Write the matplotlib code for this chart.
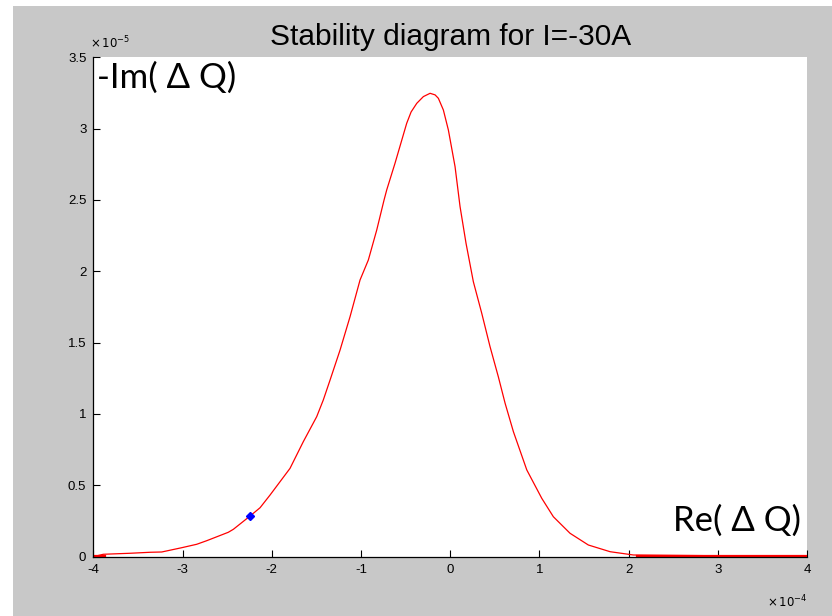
import matplotlib
matplotlib.use("Agg")
import matplotlib.pyplot as plt
from matplotlib.patches import Rectangle

# Stability diagram: Re(dQ) in units of 1e-4, -Im(dQ) in units of 1e-5
re_dq = [-4.000, -3.888, -3.589, -3.364, -3.233, -3.009, -2.841, -2.729, -2.487,
         -2.430, -2.243, -2.131, -2.019, -1.795, -1.646, -1.496, -1.422, -1.346,
         -1.234, -1.122, -1.010, -0.917, -0.823, -0.741, -0.711, -0.618, -0.487,
         -0.438, -0.374, -0.300, -0.225, -0.169, -0.132, -0.076, -0.020, 0.055,
         0.111, 0.178, 0.260, 0.354, 0.447, 0.540, 0.616, 0.709, 0.859, 1.027,
         1.157, 1.344, 1.549, 1.793, 2.054, 4.000]
im_dq = [0.000, 0.017, 0.024, 0.031, 0.033, 0.063, 0.087, 0.112, 0.171,
         0.192, 0.285, 0.343, 0.432, 0.619, 0.806, 0.981, 1.098, 1.238,
         1.448, 1.682, 1.939, 2.079, 2.289, 2.499, 2.570, 2.757, 3.037,
         3.116, 3.177, 3.224, 3.247, 3.236, 3.212, 3.130, 2.990, 2.733,
         2.453, 2.196, 1.927, 1.706, 1.472, 1.261, 1.075, 0.876, 0.608, 0.409,
         0.280, 0.164, 0.082, 0.035, 0.012, 0.001]

# working point
point_re = [-2.243]
point_im = [0.285]

x_ticks = [-4, -3, -2, -1, 0, 1, 2, 3, 4]
y_ticks = [0, 0.5, 1, 1.5, 2, 2.5, 3, 3.5]
y_tick_labels = ["0", "0.5", "1", "1.5", "2", "2.5", "3", "3.5"]

W, H = 832, 616
fig = plt.figure(figsize=(W / 100, H / 100), dpi=100, facecolor="white")
fig.patches.append(Rectangle((13 / W, 0), 1 - 13 / W, 1 - 6 / H,
                             transform=fig.transFigure, facecolor="#c8c8c8",
                             edgecolor="none", zorder=-10))

ax = fig.add_axes([93.3 / W, (H - 556.7) / H, (807 - 93.3) / W, (556.7 - 57.2) / H])
ax.set_facecolor("white")

ax.plot(re_dq, im_dq, color="red", lw=0.9)
ax.plot([2.1, 4.0], [0.004, 0.004], color="red", lw=1.6)
ax.plot([-4.0, -3.87], [0.004, 0.004], color="red", lw=1.6)
ax.plot(point_re, point_im, marker="D", color="blue", ms=4.5, ls="none")

ax.set_xlim(-4, 4)
ax.set_ylim(0, 3.5)
ax.set_xticks(x_ticks)
ax.set_xticklabels([str(v) for v in x_ticks])
ax.set_yticks(y_ticks)
ax.set_yticklabels(y_tick_labels)

tick_family = ["Liberation Sans", "DejaVu Sans"]
for lab in ax.get_xticklabels() + ax.get_yticklabels():
    lab.set_fontfamily(tick_family)
    lab.set_fontsize(9.5)

ax.tick_params(direction="in", length=5, width=0.8, colors="black",
               pad=5, top=False, right=False)
for s in ("top", "right"):
    ax.spines[s].set_visible(False)
for s in ("left", "bottom"):
    ax.spines[s].set_linewidth(0.9)

ax.set_title("Stability diagram for I=-30A", fontsize=21.5,
             family=["Liberation Sans", "DejaVu Sans"], pad=9)

# axis multipliers
ax.text(-0.005, 1.012, r"$\times\,10^{-5}$", transform=ax.transAxes,
        fontsize=8.5, ha="left", va="bottom")
ax.text(1.0, -0.075, r"$\times\,10^{-4}$", transform=ax.transAxes,
        fontsize=8.5, ha="right", va="top")

big_font = ["Lato", "DejaVu Sans"]
ax.text(0.005, 0.992, "-Im( Δ Q)", transform=ax.transAxes, fontsize=25,
        family=big_font, ha="left", va="top")
ax.text(0.992, 0.04, "Re( Δ Q)", transform=ax.transAxes, fontsize=25,
        family=big_font, ha="right", va="bottom")

fig.savefig("out.png", dpi=100, facecolor=fig.get_facecolor())
